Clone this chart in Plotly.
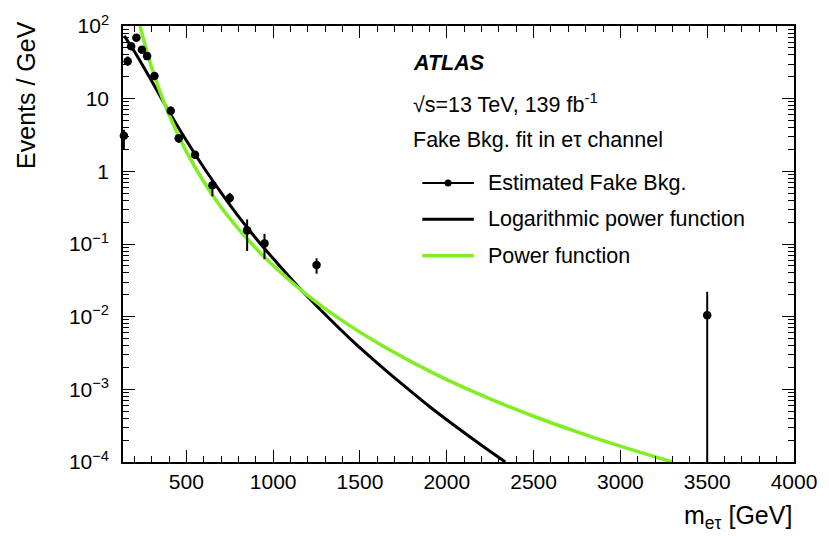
import plotly.graph_objects as go

# ---- data ----
mass = [140, 162, 182, 212, 244, 274, 316, 410, 456, 550, 650, 750, 850, 950, 1250, 3500]
events = [3.08, 32.8, 52.7, 69.0, 47.3, 38.5, 20.5, 6.8, 2.86, 1.69, 0.643, 0.43, 0.154, 0.102, 0.0515, 0.0105]
err_up = [0.64, 5.3, 4.0, 4.5, 3.5, 2.5, 1.5, 1.0, 0.31, 0.17, 0.087, 0.075, 0.064, 0.036, 0.012, 0.0115]
err_down = [1.09, 4.5, 4.0, 4.5, 3.5, 2.5, 1.5, 0.9, 0.41, 0.15, 0.19, 0.062, 0.074, 0.040, 0.0125, 0.0104]

logpow_mass = [142, 200, 300, 400, 500, 600, 700, 800, 900, 1000, 1150, 1300, 1450, 1600, 1750, 1900, 2050, 2200, 2337]
logpow_val = [73.0, 45.0, 17.5, 6.6, 2.65, 1.13, 0.51, 0.24, 0.12, 0.063, 0.025, 0.0107, 4.8e-3,
              2.3e-3, 1.14e-3, 5.8e-4, 3.1e-4, 1.7e-4, 1.0e-4]

pow_mass = [233, 300, 400, 500, 600, 700, 800, 900, 1000, 1200, 1400, 1600, 1800, 2000, 2250, 2500, 2750, 3000, 3298]
pow_val = [100.0, 26.8, 6.0, 1.87, 0.72, 0.32, 0.161, 0.0875, 0.0505, 0.0195, 8.75e-3, 4.36e-3,
           2.37e-3, 1.36e-3, 7.4e-4, 4.26e-4, 2.6e-4, 1.65e-4, 1.0e-4]

x_ticks = [500, 1000, 1500, 2000, 2500, 3000, 3500, 4000]
y_ticks = [1e-4, 1e-3, 1e-2, 1e-1, 1, 10, 100]
y_ticktext = ["10<sup>−4</sup>", "10<sup>−3</sup>", "10<sup>−2</sup>", "10<sup>−1</sup>", "1", "10", "10<sup>2</sup>"]
y_minor = [k * 10.0 ** e for e in range(-4, 2) for k in range(2, 10)]

GREEN = "#80ee22"
FONT = "Liberation Sans, Arial, sans-serif"

fig = go.Figure()
fig.add_trace(go.Scatter(x=logpow_mass, y=logpow_val, mode="lines",
                         line=dict(color="black", width=3, shape="spline"),
                         name="Logarithmic power function"))
fig.add_trace(go.Scatter(x=pow_mass, y=pow_val, mode="lines",
                         line=dict(color=GREEN, width=3.5, shape="spline"),
                         name="Power function"))
fig.add_trace(go.Scatter(x=mass, y=events, mode="markers",
                         marker=dict(color="black", size=8.5),
                         error_y=dict(type="data", array=err_up, arrayminus=err_down,
                                      color="black", thickness=2, width=0),
                         cliponaxis=False, name="Estimated Fake Bkg."))

axis_common = dict(showline=True, linecolor="black", linewidth=1.5, mirror="ticks",
                   ticks="inside", ticklen=12, tickwidth=1.2, tickcolor="black",
                   showgrid=False, zeroline=False,
                   tickfont=dict(family=FONT, size=21, color="black"))

fig.update_xaxes(range=[135, 4000], tickvals=x_ticks, ticklabelstandoff=0,
                 minor=dict(ticks="inside", ticklen=6, tickwidth=1.2, tickcolor="black",
                            dtick=100, tick0=0, showgrid=False),
                 **axis_common)
fig.update_yaxes(type="log", range=[-4, 2], tickvals=y_ticks, ticktext=y_ticktext,
                 ticklabelstandoff=8,
                 minor=dict(ticks="inside", ticklen=6, tickwidth=1.2, tickcolor="black",
                            tickvals=y_minor, showgrid=False),
                 **axis_common)

def px2x(p):
    return (p - 123) / 677.0

def px2y(p):
    return (462 - p) / 439.0

annotations = [
    dict(text="<b><i>ATLAS</i></b>", x=px2x(414), y=px2y(60)),
    dict(text="√s=13 TeV, 139 fb<sup>-1</sup>", x=px2x(414), y=px2y(101)),
    dict(text="Fake Bkg. fit in eτ channel", x=px2x(414), y=px2y(137.7)),
    dict(text="Estimated Fake Bkg.", x=px2x(489), y=px2y(181)),
    dict(text="Logarithmic power function", x=px2x(489), y=px2y(217.7)),
    dict(text="Power function", x=px2x(489), y=px2y(254.3)),
]
for a in annotations:
    fig.add_annotation(xref="paper", yref="paper", xanchor="left", yanchor="middle",
                       showarrow=False, font=dict(family=FONT, size=21.5, color="black"), **a)

fig.add_annotation(text="Events / GeV", xref="paper", yref="paper", x=px2x(25), y=1.0 + 7 / 439.0,
                   textangle=-90, showarrow=False, xanchor="center", yanchor="top",
                   font=dict(family=FONT, size=25, color="black"))
fig.add_annotation(text="m<sub>eτ</sub> [GeV]", xref="paper", yref="paper", x=1.0, y=px2y(517),
                   showarrow=False, xanchor="right", yanchor="middle",
                   font=dict(family=FONT, size=25, color="black"))

# manual legend samples
for ypx, col, w in [(181, "black", 2), (217.7, "black", 3), (254.3, GREEN, 3.5)]:
    fig.add_shape(type="line", xref="paper", yref="paper", x0=px2x(425), x1=px2x(477),
                  y0=px2y(ypx), y1=px2y(ypx), line=dict(color=col, width=w))
fig.add_shape(type="circle", xref="paper", yref="paper", xsizemode="pixel", ysizemode="pixel",
              xanchor=px2x(451), yanchor=px2y(181), x0=-3.5, x1=3.5, y0=-3.5, y1=3.5,
              fillcolor="black", line=dict(color="black", width=0))

fig.update_layout(width=829, height=536, margin=dict(l=123, r=29, t=23, b=74),
                  plot_bgcolor="white", paper_bgcolor="white", showlegend=False,
                  font=dict(family=FONT, color="black"))

fig.write_html("out.html")
